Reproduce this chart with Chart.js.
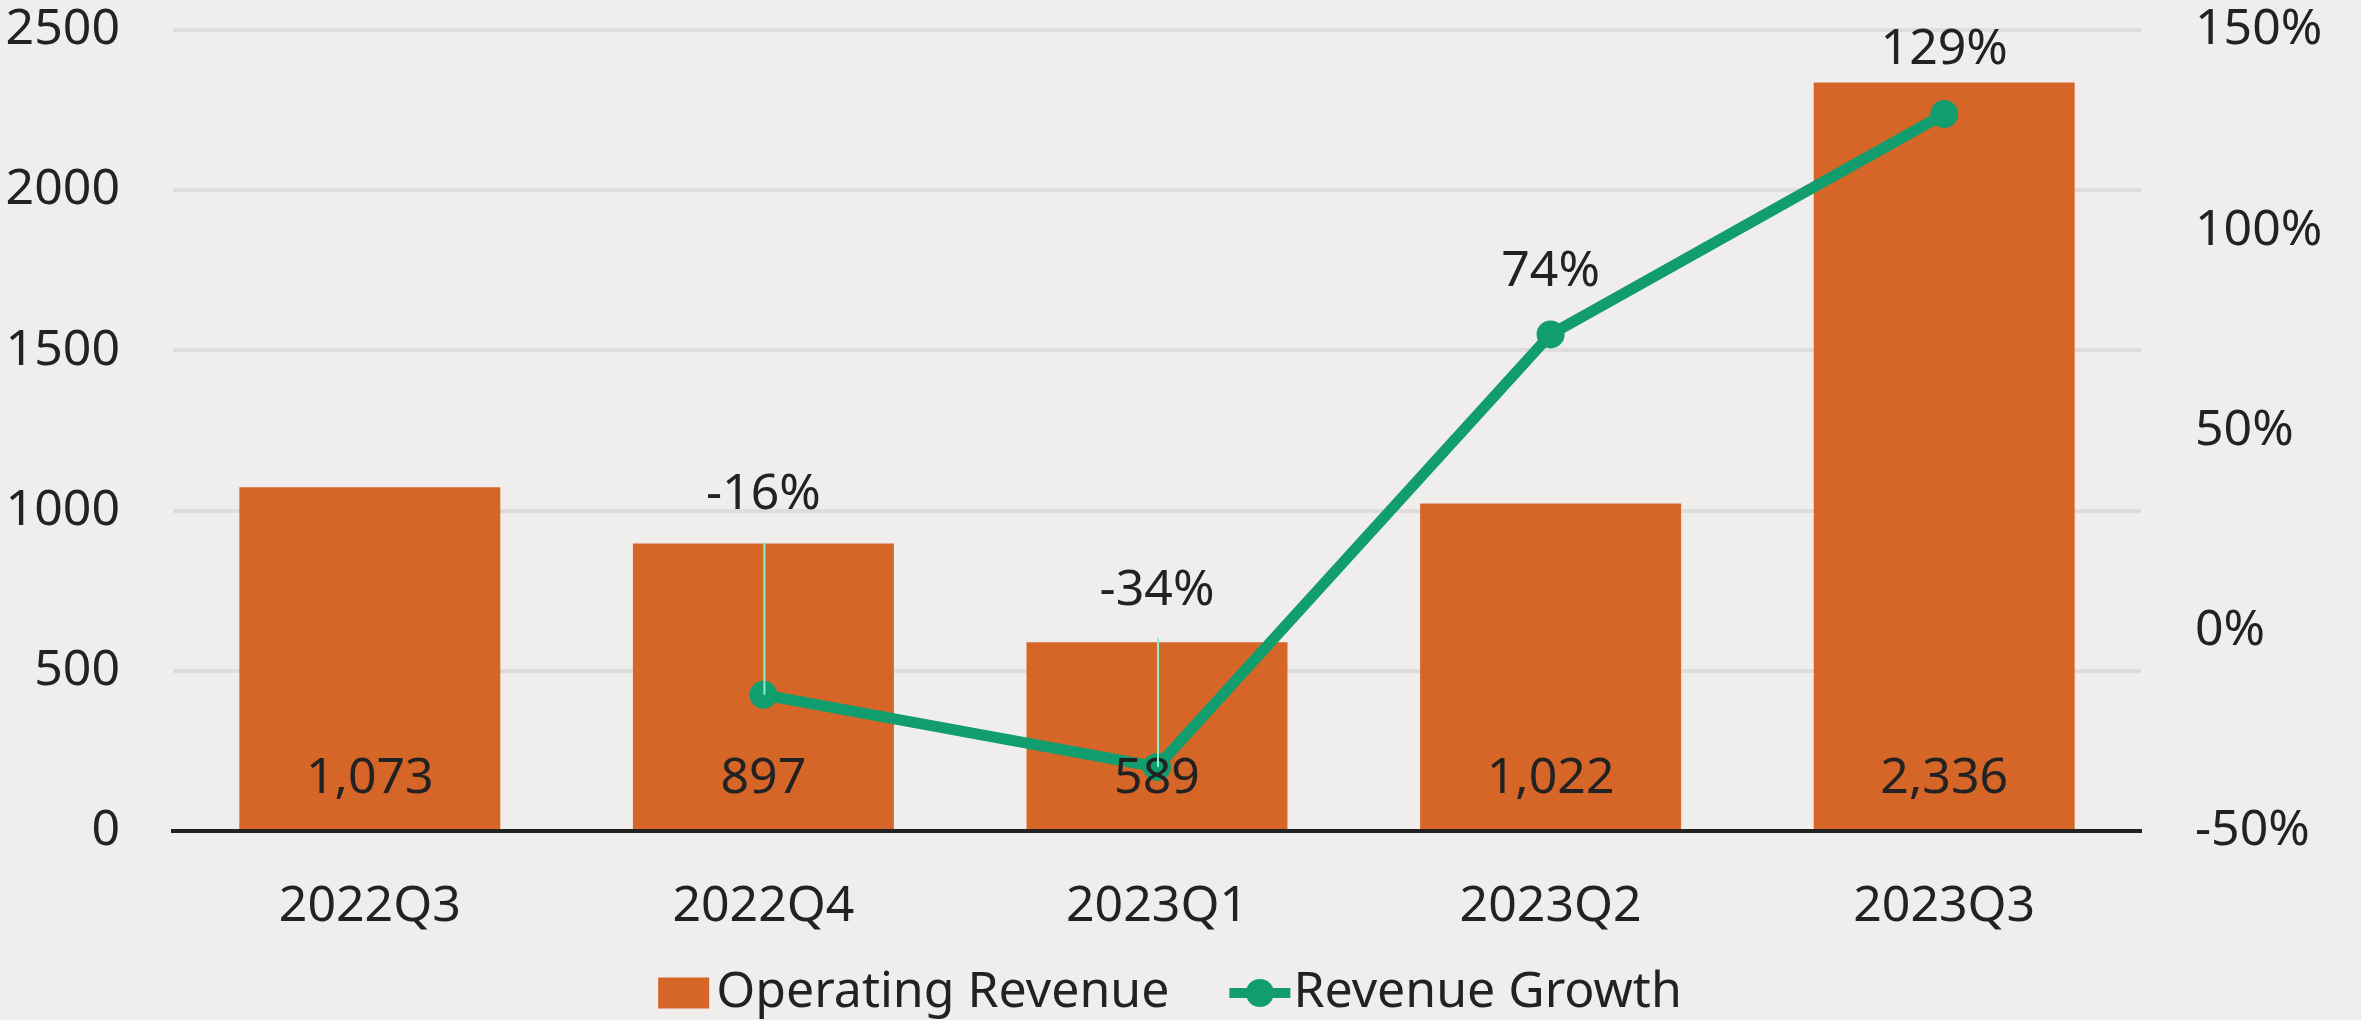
<!DOCTYPE html>
<html><head><meta charset="utf-8">
<script src="https://cdn.jsdelivr.net/npm/chart.js@4.4.0/dist/chart.umd.min.js"></script>
<style>html,body{margin:0;padding:0;background:#EFEEEC;overflow:hidden}#wrap{width:2361px;height:1020px}</style>
</head><body><div id="wrap"><canvas id="c" width="2361" height="1020"></canvas></div>
<script>
const categories = ['2022Q3', '2022Q4', '2023Q1', '2023Q2', '2023Q3'];
const operatingRevenue = [1073, 897, 589, 1022, 2336];
const revenueGrowth = [null, -16, -34, 74, 129];
const revenueTicks = [0, 500, 1000, 1500, 2000, 2500];
const growthTicks = [-50, 0, 50, 100, 150];
const seriesNames = ['Operating Revenue', 'Revenue Growth'];

const FONT = '"Noto Sans", "Open Sans", sans-serif';
const FS = 50;
const ORANGE = '#D66628';
const GREEN = '#119D6E';
const TEXT = '#222222';
const growthLabelOffsets = [0, 200, 176, 63, 64];

const valueLabels = {
  id: 'valueLabels',
  afterDatasetsDraw(chart) {
    const ctx = chart.ctx;
    ctx.save();
    ctx.font = FS + 'px ' + FONT;
    ctx.fillStyle = TEXT;
    ctx.textAlign = 'center';
    ctx.textBaseline = 'middle';
    const y0 = chart.scales.y.getPixelForValue(0);
    chart.getDatasetMeta(0).data.forEach((bar, i) => {
      ctx.fillText(operatingRevenue[i].toLocaleString('en-US'), bar.x, y0 - 52);
    });
    chart.getDatasetMeta(1).data.forEach((pt, i) => {
      const v = revenueGrowth[i];
      if (v === null || v === undefined) return;
      const off = growthLabelOffsets[i];
      const ly = pt.y - off;
      if (off > 100) {
        ctx.strokeStyle = '#86F2D2';
        ctx.lineWidth = 2;
        ctx.beginPath();
        ctx.moveTo(pt.x + 1, ly + 47);
        ctx.lineTo(pt.x + 1, pt.y);
        ctx.stroke();
      }
      ctx.fillStyle = TEXT;
      ctx.fillText(v + '%', pt.x, ly);
    });
    ctx.restore();
  }
};

const customLegend = {
  id: 'customLegend',
  afterDraw(chart) {
    const ctx = chart.ctx;
    ctx.save();
    ctx.font = FS + 'px ' + FONT;
    ctx.textBaseline = 'middle';
    ctx.textAlign = 'left';
    const y = 993;
    const w1 = ctx.measureText(seriesNames[0]).width;
    const w2 = ctx.measureText(seriesNames[1]).width;
    const boxW = 51, boxH = 31, gap = 7, itemGap = 60, lineW = 61, gap2 = 3;
    const total = boxW + gap + w1 + itemGap + lineW + gap2 + w2;
    let x = 1170 - total / 2;
    ctx.fillStyle = ORANGE;
    ctx.fillRect(x, y - boxH / 2, boxW, boxH);
    x += boxW + gap;
    ctx.fillStyle = TEXT;
    ctx.fillText(seriesNames[0], x, y);
    x += w1 + itemGap;
    ctx.strokeStyle = GREEN;
    ctx.lineWidth = 10;
    ctx.beginPath();
    ctx.moveTo(x, y); ctx.lineTo(x + lineW, y); ctx.stroke();
    ctx.fillStyle = GREEN;
    ctx.beginPath();
    ctx.arc(x + lineW / 2, y, 14, 0, Math.PI * 2);
    ctx.fill();
    x += lineW + gap2;
    ctx.fillStyle = TEXT;
    ctx.fillText(seriesNames[1], x, y);
    ctx.restore();
  }
};

new Chart(document.getElementById('c'), {
  data: {
    labels: categories,
    datasets: [
      {
        type: 'bar',
        label: seriesNames[0],
        data: operatingRevenue,
        backgroundColor: ORANGE,
        yAxisID: 'y',
        order: 1,
        categoryPercentage: 1,
        barPercentage: 0.663
      },
      {
        type: 'line',
        label: seriesNames[1],
        data: revenueGrowth,
        borderColor: GREEN,
        backgroundColor: GREEN,
        borderWidth: 11,
        pointRadius: 14,
        pointBorderWidth: 0,
        pointBackgroundColor: GREEN,
        tension: 0,
        yAxisID: 'y1',
        order: 0
      }
    ]
  },
  options: {
    responsive: false,
    animation: false,
    layout: { padding: { top: 30, left: 0, right: 0, bottom: 0 } },
    plugins: { legend: { display: false }, tooltip: { enabled: false } },
    scales: {
      x: {
        grid: { display: false, drawTicks: false },
        border: { display: true, color: TEXT, width: 4 },
        ticks: { color: TEXT, font: { family: FONT, size: FS }, padding: 46, maxRotation: 0 },
        afterFit(s) { s.height = 189; s.paddingLeft = 0; s.paddingRight = 0; }
      },
      y: {
        position: 'left',
        min: revenueTicks[0],
        max: revenueTicks[revenueTicks.length - 1],
        afterBuildTicks(s) { s.ticks = revenueTicks.map(v => ({ value: v })); },
        grid: { color: '#DDDDDC', lineWidth: 4, drawTicks: false },
        border: { display: false },
        ticks: { color: TEXT, font: { family: FONT, size: FS }, padding: 53, callback: v => String(v) },
        afterFit(s) { s.width = 173; s.paddingTop = 0; s.paddingBottom = 0; }
      },
      y1: {
        position: 'right',
        min: growthTicks[0],
        max: growthTicks[growthTicks.length - 1],
        afterBuildTicks(s) { s.ticks = growthTicks.map(v => ({ value: v })); },
        grid: { display: false, drawTicks: false },
        border: { display: false },
        ticks: { color: TEXT, font: { family: FONT, size: FS }, padding: 54, callback: v => v + '%' },
        afterFit(s) { s.width = 220; s.paddingTop = 0; s.paddingBottom = 0; }
      }
    }
  },
  plugins: [valueLabels, customLegend]
});
</script></body></html>
